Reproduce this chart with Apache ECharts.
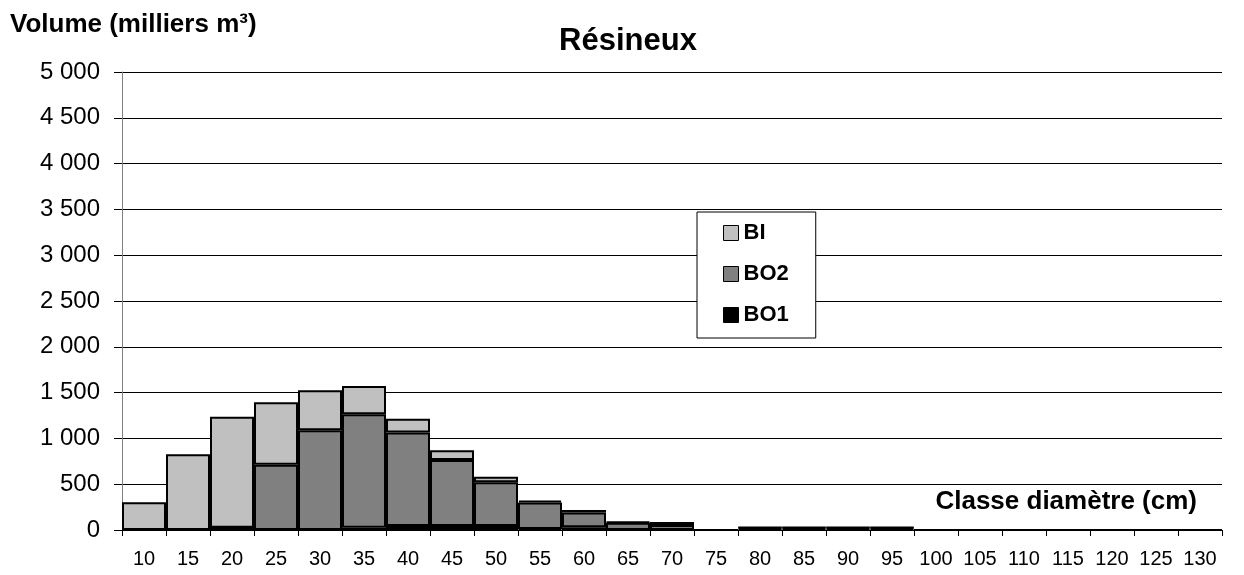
<!DOCTYPE html>
<html>
<head>
<meta charset="utf-8">
<script src="https://cdn.jsdelivr.net/npm/echarts@6/dist/echarts.min.js"></script>
<style>
  html, body { margin: 0; padding: 0; background: #fff; }
  #chart { width: 1244px; height: 575px; }
</style>
</head>
<body>
<div id="chart"></div>
<script>
// classes de diamètre (cm)
const categories = ['10','15','20','25','30','35','40','45','50','55','60','65','70','75','80','85','90','95','100','105','110','115','120','125','130'];
// volumes en milliers de m³
const bo1 = [0, 0, 25, 0, 0, 25, 45, 45, 45, 10, 30, 0, 0, 0, 10, 10, 10, 10, 0, 0, 0, 0, 0, 0, 0];
const bo2 = [0, 0, 0, 713, 1088, 1240, 1020, 720, 475, 290, 160, 80, 55, 0, 15, 15, 15, 15, 0, 0, 0, 0, 0, 0, 0];
const bi  = [302, 826, 1212, 681, 437, 307, 150, 105, 62, 20, 28, 11, 32, 0, 4, 4, 4, 4, 0, 0, 0, 0, 0, 0, 0];

const fmt = v => String(v).replace(/\B(?=(\d{3})+(?!\d))/g, ' ');

const barStyle = color => ({ color: color, borderColor: '#000', borderWidth: 2 });

const chart = echarts.init(document.getElementById('chart'));
chart.setOption({
  animation: false,
  textStyle: { fontFamily: 'Liberation Sans, Arial, sans-serif' },
  title: {
    text: 'Résineux',
    left: 623,
    textAlign: 'center',
    top: 21,
    textStyle: { fontSize: 31, fontWeight: 'bold', color: '#000' }
  },
  legend: {
    data: ['BI', 'BO2', 'BO1'],
    orient: 'vertical',
    left: 697,
    top: 212,
    padding: [10, 27, 12, 26],
    itemGap: 19,
    itemWidth: 15,
    itemHeight: 15,
    itemTextGap: 9,
    backgroundColor: '#fff',
    borderColor: '#000',
    borderWidth: 1,
    borderRadius: 0,
    icon: 'rect',
    itemStyle: { borderColor: '#000', borderWidth: 1 },
    textStyle: { fontSize: 22, fontWeight: 'bold', color: '#000' }
  },
  grid: { left: 122, right: 22, top: 72, bottom: 45 },
  xAxis: {
    type: 'category',
    data: categories,
    name: 'Classe diamètre (cm)',
    nameLocation: 'end',
    nameGap: 0,
    nameTextStyle: {
      fontSize: 26, fontWeight: 'bold', color: '#000',
      align: 'right', verticalAlign: 'bottom', padding: [0, 25, 15, 0]
    },
    axisLine: { lineStyle: { color: '#000', width: 1 } },
    axisTick: { show: true, length: 6, lineStyle: { color: '#000' } },
    axisLabel: { color: '#000', fontSize: 20, margin: 19, interval: 0 }
  },
  yAxis: {
    type: 'value',
    min: 0,
    max: 5000,
    interval: 500,
    name: 'Volume (milliers m³)',
    nameLocation: 'end',
    nameGap: 0,
    nameTextStyle: {
      fontSize: 26, fontWeight: 'bold', color: '#000',
      align: 'left', verticalAlign: 'bottom', padding: [0, 0, 34, -112]
    },
    axisLine: { show: true, lineStyle: { color: '#808080', width: 1 } },
    axisTick: { show: true, length: 8, inside: false, lineStyle: { color: '#000' } },
    axisLabel: { color: '#000', fontSize: 24, margin: 22, formatter: fmt },
    splitLine: { lineStyle: { color: '#000', width: 1 } }
  },
  series: [
    { name: 'BO1', type: 'bar', stack: 'v', data: bo1, barCategoryGap: '0%', itemStyle: barStyle('#000000') },
    { name: 'BO2', type: 'bar', stack: 'v', data: bo2, barCategoryGap: '0%', itemStyle: barStyle('#808080') },
    { name: 'BI',  type: 'bar', stack: 'v', data: bi,  barCategoryGap: '0%', itemStyle: barStyle('#c0c0c0') }
  ]
});
</script>
</body>
</html>
